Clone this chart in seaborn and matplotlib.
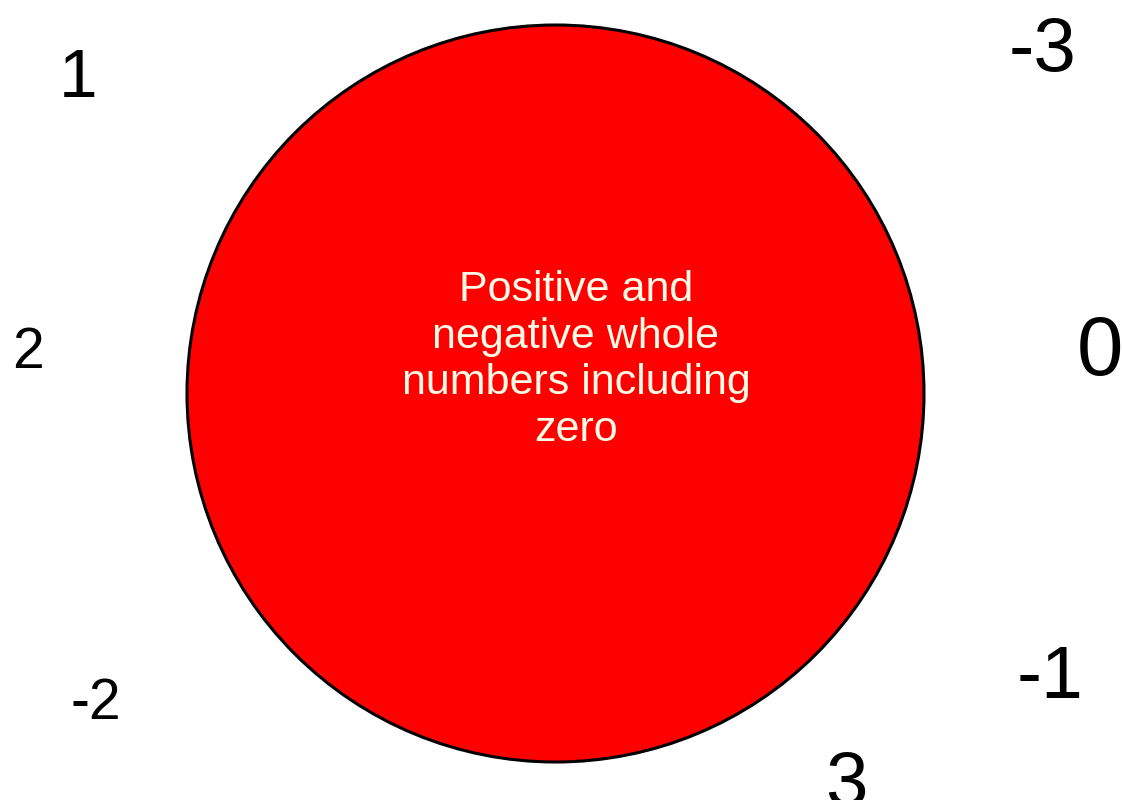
import matplotlib
matplotlib.use("Agg")
import matplotlib.pyplot as plt
from matplotlib.patches import Circle
import seaborn as sns

# the set name written in the circle and the numbers scattered round it
set_label = "Positive and\nnegative whole\nnumbers including\nzero"
numbers = ["1", "-3", "2", "0", "-1", "-2", "3"]

# where each number sits (pixels from top-left) and how big it is
number_pos = [(78, 72), (1043, 43), (28, 347), (1100, 345), (1050, 671), (96, 698), (846, 778)]
number_size = [50, 55, 41, 60, 54, 41, 55]

sns.set_theme(style="white")
plt.rcParams["font.family"] = ["Liberation Sans", "DejaVu Sans"]

fig = plt.figure(figsize=(11.22, 8), dpi=100)
ax = fig.add_axes([0, 0, 1, 1])
ax.set_xlim(0, 1122)
ax.set_ylim(800, 0)
ax.set_aspect("equal")
ax.axis("off")

# the set
ax.add_patch(Circle((555.5, 393.5), 368.5, facecolor="#ff0000", edgecolor="black", linewidth=2.2))
ax.text(576, 360, set_label, color="#fffbe6", fontsize=31, ha="center", va="center",
        linespacing=1.22, multialignment="center")

# numbers outside
for lab, (x, y), s in zip(numbers, number_pos, number_size):
    ax.text(x, y, lab, fontsize=s, color="black", ha="center", va="center_baseline")

fig.savefig("out.png", dpi=100)
